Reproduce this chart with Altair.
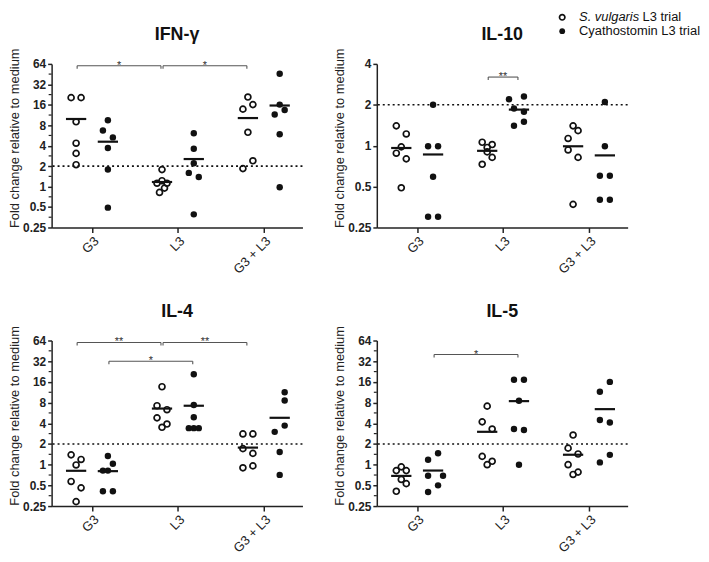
import altair as alt
import pandas as pd

FONT = "Liberation Sans"
CATS = ["G3", "L3", "G3 + L3"]
LEG_ITALIC = "S. vulgaris"
LEG_OPEN_REST = "L3 trial"
LEG_FILL = "Cyathostomin L3 trial"
Y_TITLE = "Fold change relative to medium"

# ---------------- data (fold change values) ----------------
# each list: per group (G3, L3, G3 + L3) six animals; *_col = beeswarm column of each point
ifn_open = [[20.4, 20.4, 9.0, 4.35, 3.08, 2.1],
            [1.78, 1.12, 1.22, 1.12, 0.95, 0.82],
            [20.8, 16.1, 13.8, 6.3, 2.4, 1.84]]
ifn_open_col = [[-1, 1, 0, 0, 0, 0], [0, -1, 0, 1, 0.5, -0.5], [0, 1, -1, 0, 1, -1]]
ifn_fill = [[9.5, 6.7, 5.3, 3.7, 1.78, 0.49],
            [6.1, 3.6, 2.2, 1.59, 1.38, 0.39],
            [45.8, 16.1, 13.4, 11.5, 5.9, 0.98]]
ifn_fill_col = [[0, -1, 1, 0, 0, 0], [0, 0, 0, -1, 1, 0], [0, 0, 1, -1, 0, 0]]
ifn_brackets = [(0, "open", 1, "open", 60, "*"), (1, "open", 2, "open", 60, "*")]

il10_open = [[1.40, 1.22, 0.98, 0.88, 0.80, 0.49],
             [1.06, 1.02, 0.97, 0.90, 0.82, 0.73],
             [1.40, 1.29, 1.13, 0.93, 0.82, 0.37]]
il10_open_col = [[-1, 1, 0, -1, 1, 0], [-1, 1, 0, 0, 1, -1], [0, 1, -1, -1, 1, 0]]
il10_fill = [[2.0, 0.99, 0.99, 0.59, 0.30, 0.30],
             [2.2, 2.3, 1.88, 1.78, 1.40, 1.50],
             [2.1, 0.99, 0.60, 0.60, 0.40, 0.40]]
il10_fill_col = [[0, -1, 1, 0, -1, 1], [-2, 1, -1, 1, -1, 1], [0, 0, -1, 1, -1, 1]]
il10_brackets = [(1, "open", 1, "fill", 3.2, "**")]

il4_open = [[1.39, 1.19, 0.99, 0.57, 0.46, 0.29],
            [13.6, 7.2, 6.3, 4.8, 3.9, 3.5],
            [2.8, 2.8, 1.71, 1.46, 0.90, 0.96]]
il4_open_col = [[-1, 1, 0, -1, 1, 0], [0, -1, 1, -1, 1, 0], [-1, 1, -1, 1, -1, 1]]
il4_fill = [[1.34, 1.03, 0.82, 0.82, 0.41, 0.41],
            [20.7, 7.4, 4.9, 3.4, 3.4, 3.4],
            [11.3, 8.6, 3.7, 3.0, 1.53, 0.71]]
il4_fill_col = [[0, 1, -1, 0, -1, 1], [0, 0, 0, -1, 0, 1], [1, 1, 1, -1, 0, 0]]
il4_brackets = [(0, "open", 1, "open", 60, "**"), (1, "open", 2, "open", 60, "**"),
                (0, "fill", 1, "fill", 32, "*")]

il5_open = [[0.82, 0.93, 0.82, 0.61, 0.53, 0.41],
            [7.1, 4.2, 3.3, 1.32, 1.12, 1.0],
            [2.7, 1.74, 1.43, 1.0, 0.78, 0.72]]
il5_open_col = [[-1, 0, 1, 0, 1, -1], [0, -1, 1, -1, 1, 0], [0, -1, 1, -1, 1, 0]]
il5_fill = [[1.18, 1.47, 0.69, 0.69, 0.50, 0.40],
            [17.2, 17.2, 8.5, 3.3, 3.2, 1.0],
            [16.0, 11.5, 4.47, 4.1, 1.39, 1.08]]
il5_fill_col = [[-1, 1, -1, 2, 1, -1], [-1, 1, 0, -1, 1, 0], [1, -1, -1, 1, 1, -1]]
il5_brackets = [(0, "fill", 1, "fill", 40, "*")]

Y_TICKS_64 = [0.25, 0.5, 1, 2, 4, 8, 16, 32, 64]
Y_TICKS_4 = [0.25, 0.5, 1, 2, 4]
MINOR_64 = [0.354, 0.707, 1.414, 2.83, 5.66, 11.3, 22.6, 45.3]

# ---------------- layout constants ----------------
W = 253
SIDE = {"open": -0.185, "fill": 0.185}
STEP = 0.058
HALF = 0.118
XDOM = [-0.47, 2.45]
INK = "#111111"
AX = "#222222"


def build_panel(name, o_vals, o_cols, f_vals, f_cols, yticks, brackets,
                height, minor=None, legend=False):
    rows = []
    for g in range(3):
        for v, c in zip(o_vals[g], o_cols[g]):
            rows.append({"g": g, "s": "open", "v": v, "c": c})
        for v, c in zip(f_vals[g], f_cols[g]):
            rows.append({"g": g, "s": "fill", "v": v, "c": c})
    df = pd.DataFrame(rows)

    xscale = alt.Scale(domain=XDOM, nice=False, zero=False)
    yscale = alt.Scale(type="log", base=2, domain=[yticks[0], yticks[-1]], nice=False)
    xaxis = alt.Axis(values=[0, 1, 2], labelExpr=f"{CATS}[datum.value]", title=None,
                     labelAngle=-45, labelFontSize=13, tickSize=5, labelPadding=2,
                     grid=False)
    yaxis = alt.Axis(values=yticks, format="~g", title=Y_TITLE, labelFontSize=12,
                     labelFontWeight="bold", titleFontSize=13, titleFontWeight="normal",
                     titlePadding=1, tickSize=4, labelPadding=2, grid=False,
                     titleY=height / 2 - 8)

    def X(f):
        return alt.X(f, type="quantitative", scale=xscale, axis=xaxis)

    def Y(f):
        return alt.Y(f, type="quantitative", scale=yscale, axis=yaxis)

    xcalc = (f"datum.g + (datum.s == 'open' ? {SIDE['open']} : {SIDE['fill']})")
    base = alt.Chart(df).transform_calculate(x=xcalc + f" + datum.c * {STEP}")

    layers = []
    layers.append(alt.Chart(pd.DataFrame({"r": [2]})).mark_rule(
        strokeDash=[2, 3], strokeWidth=1.6, color=INK).encode(y=Y("r")))
    if minor:
        layers.append(alt.Chart(pd.DataFrame({"mt": minor})).mark_rule(
            color=AX, strokeWidth=1.2).encode(y=Y("mt"), x=alt.value(0), x2=alt.value(-3)))

    # brackets
    brows = []
    for g1, s1, g2, s2, lev, lab in brackets:
        brows.append({"x1": g1 + SIDE[s1] + 0.012, "x2": g2 + SIDE[s2] - 0.012,
                      "y": lev, "lab": lab})
    bdf = pd.DataFrame(brows)
    bch = alt.Chart(bdf)
    layers.append(bch.mark_rule(color="#555555", strokeWidth=1.1).encode(
        x=X("x1"), x2="x2:Q", y=Y("y")))
    layers.append(bch.transform_fold(["x1", "x2"], as_=["k", "xe"]).mark_rule(
        color="#555555", strokeWidth=1.1, y2Offset=3).encode(x=X("xe"), y=Y("y"), y2="y:Q"))
    layers.append(bch.transform_calculate(xm="(datum.x1 + datum.x2) / 2").mark_text(
        fontSize=11, dy=3, baseline="alphabetic", color="#333333", font=FONT).encode(
        x=X("xm"), y=Y("y"), text="lab:N"))

    # points
    layers.append(base.transform_filter("datum.s == 'open'").mark_point(
        shape="circle", filled=False, size=36, strokeWidth=1.7, color=INK, opacity=1).encode(
        x=X("x"), y=Y("v")))
    layers.append(base.transform_filter("datum.s == 'fill'").mark_circle(
        size=42, color=INK, opacity=1).encode(x=X("x"), y=Y("v")))

    # mean lines
    layers.append(alt.Chart(df).transform_aggregate(
        m="mean(v)", groupby=["g", "s"]).transform_calculate(
        xc=xcalc).transform_calculate(
        xa=f"datum.xc - {HALF}", xb=f"datum.xc + {HALF}").mark_rule(
        strokeWidth=2.2, color=INK).encode(x=X("xa"), x2="xb:Q", y=Y("m")))

    # panel title
    layers.append(alt.Chart(pd.DataFrame({"t": [name]})).mark_text(
        fontSize=18, fontWeight="bold", font=FONT, color=INK, baseline="middle").encode(
        text="t:N", x=alt.value(W / 2), y=alt.value(-29)))

    if legend:
        ldf = pd.DataFrame({"a": [LEG_ITALIC], "b": [LEG_OPEN_REST], "c": [LEG_FILL]})
        lch = alt.Chart(ldf)
        layers.append(lch.mark_point(shape="circle", filled=False, size=30, strokeWidth=1.7,
                                     color=INK, opacity=1).encode(
            x=alt.value(187), y=alt.value(-47)))
        layers.append(lch.mark_circle(size=34, color=INK, opacity=1).encode(
            x=alt.value(187), y=alt.value(-33)))
        layers.append(lch.mark_text(fontSize=13, fontStyle="italic", font=FONT, align="left",
                                    baseline="middle", color=INK).encode(
            text="a:N", x=alt.value(204), y=alt.value(-47)))
        layers.append(lch.mark_text(fontSize=13, font=FONT, align="left",
                                    baseline="middle", color=INK).encode(
            text="b:N", x=alt.value(268), y=alt.value(-47)))
        layers.append(lch.mark_text(fontSize=13, font=FONT, align="left",
                                    baseline="middle", color=INK).encode(
            text="c:N", x=alt.value(204), y=alt.value(-33)))

    return alt.layer(*layers).properties(width=W, height=height)


p1 = build_panel("IFN-γ", ifn_open, ifn_open_col, ifn_fill, ifn_fill_col,
                 Y_TICKS_64, ifn_brackets, 165, minor=MINOR_64)
p2 = build_panel("IL-10", il10_open, il10_open_col, il10_fill, il10_fill_col,
                 Y_TICKS_4, il10_brackets, 165, legend=True)
p3 = build_panel("IL-4", il4_open, il4_open_col, il4_fill, il4_fill_col,
                 Y_TICKS_64, il4_brackets, 167, minor=MINOR_64)
p4 = build_panel("IL-5", il5_open, il5_open_col, il5_fill, il5_fill_col,
                 Y_TICKS_64, il5_brackets, 167, minor=MINOR_64)

row1 = alt.hconcat(p1, p2, spacing=30)
row2 = alt.hconcat(p3, p4, spacing=30)

chart = alt.vconcat(row1, row2, spacing=26).properties(
    padding={"left": 0, "top": 0, "right": 0, "bottom": 0}
).configure(font=FONT).configure_axis(
    domainColor=AX, tickColor=AX, domainWidth=1.5, tickWidth=1.5,
    labelColor=AX, titleColor=AX, labelFont=FONT, titleFont=FONT
).configure_view(stroke=None)

chart.save("out.html", embed_options={"renderer": "svg", "actions": False})
